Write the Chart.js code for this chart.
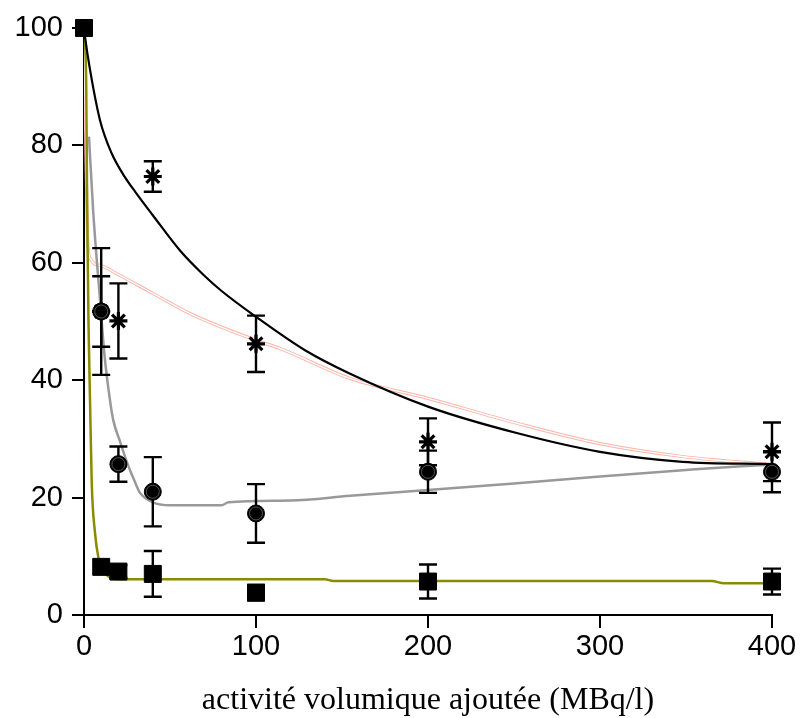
<!DOCTYPE html>
<html>
<head>
<meta charset="utf-8">
<script src="https://cdn.jsdelivr.net/npm/chart.js@4"></script>
<style>
  body { margin: 0; background: #fff; }
  canvas { display: block; }
</style>
</head>
<body>
<canvas id="grafico" width="800" height="718"></canvas>
<script>
// activites mesurees (MBq/l)
const X_POINTS = [0, 10, 20, 40, 100, 200, 400];

// carres
const CARRES = [100, 8.2, 7.4, 7.0, 3.8, 5.7, 5.7];
const CARRES_ERR = [0, 0, 1.1, 3.9, 1.3, 2.9, 2.2];
// ronds
const RONDS = [100, 51.7, 25.7, 21.0, 17.3, 24.4, 24.4];
const RONDS_ERR = [0, 10.8, 3.0, 5.9, 5.0, 3.6, 3.5];
// etoiles
const ETOILES = [100, 51.7, 50.1, 74.7, 46.2, 29.5, 27.8];
const ETOILES_ERR = [0, 6.0, 6.4, 2.6, 4.8, 4.0, 5.0];

// courbes d'ajustement
const NOIR_X = [0, 0.6, 3.5, 9.3, 16, 24, 30, 40, 55.8, 70, 80, 100, 128.5, 154.7, 200, 251.6, 300, 348, 400];
const NOIR_Y = [100, 98.5, 92.9, 84.3, 78.7, 74.5, 72.0, 68.1, 62.1, 57.8, 55.2, 50.8, 45.1, 41.1, 35.5, 31.0, 27.8, 26.1, 25.7];

const GRIS_X = [2.9, 5.4, 9.3, 12, 15.1, 17, 21, 25, 29.7, 32.6, 40, 50, 80, 84, 120, 154.7, 200, 250, 300, 350, 380, 400];
const GRIS_Y = [81.5, 68.5, 53.7, 44, 36.6, 33.2, 29.5, 26.0, 22.6, 20.8, 19.2, 18.7, 18.7, 19.2, 19.5, 20.3, 21.3, 22.4, 23.6, 24.7, 25.3, 25.6];

const OLIVE_X = [0, 1.3, 1.8, 2.6, 3.5, 4.5, 6.4, 8.3, 10, 12.2, 16, 20, 140, 145, 365, 372, 400];
const OLIVE_Y = [100, 90, 70, 50, 36.6, 22.5, 14, 9.9, 8.4, 7.1, 6.3, 6.1, 6.1, 5.8, 5.8, 5.4, 5.4];

const ROUGE_X = [0, 0.8, 2, 3.5, 10, 20, 40, 63.5, 100, 114, 154.7, 200, 250, 300, 348, 400];
const ROUGE_Y = [100, 85, 65, 60.8, 59.5, 58, 54.8, 51.1, 46.8, 45.4, 40.3, 36.9, 32.8, 29.2, 27.0, 25.6];

const X_TICKS = [0, 100, 200, 300, 400];
const Y_TICKS = [0, 20, 40, 60, 80, 100];
const TITRE_X = 'activité volumique ajoutée (MBq/l)';

function paires(xs, ys) {
    return xs.map((x, i) => ({ x: x, y: ys[i] }));
}

function courbe(xs, ys, couleur, largeur, ordre) {
    return {
        data: paires(xs, ys),
        showLine: true,
        borderColor: couleur,
        borderWidth: largeur,
        pointRadius: 0,
        cubicInterpolationMode: 'monotone',
        order: ordre
    };
}

function points(ys, style, rayon, ordre) {
    return {
        data: paires(X_POINTS, ys),
        showLine: false,
        pointStyle: style,
        pointRadius: rayon,
        pointBackgroundColor: '#000',
        pointBorderColor: '#000',
        pointBorderWidth: style === 'star' ? 3.2 : 1,
        clip: false,
        order: ordre
    };
}

const SERIES_ERR = [
    { ys: ETOILES, err: ETOILES_ERR },
    { ys: RONDS, err: RONDS_ERR },
    { ys: CARRES, err: CARRES_ERR }
];

// barres d'erreur, dessinees juste avant les marqueurs
const barresErreur = {
    id: 'barresErreur',
    beforeDatasetDraw(chart, args) {
        if (args.index !== 2) return;
        const ctx = chart.ctx;
        const sx = chart.scales.x;
        const sy = chart.scales.y;
        ctx.save();
        ctx.strokeStyle = '#000';
        ctx.lineWidth = 2.4;
        SERIES_ERR.forEach(s => {
            X_POINTS.forEach((x, i) => {
                if (!s.err[i]) return;
                const px = sx.getPixelForValue(x);
                const haut = sy.getPixelForValue(s.ys[i] + s.err[i]);
                const bas = sy.getPixelForValue(s.ys[i] - s.err[i]);
                ctx.beginPath();
                ctx.moveTo(px, haut); ctx.lineTo(px, bas);
                ctx.moveTo(px - 9, haut); ctx.lineTo(px + 9, haut);
                ctx.moveTo(px - 9, bas); ctx.lineTo(px + 9, bas);
                ctx.stroke();
            });
        });
        ctx.restore();
    },
    afterDatasetDraw(chart, args) {
        // petit anneau gris dans les ronds
        if (args.index !== 1) return;
        const ctx = chart.ctx;
        ctx.save();
        ctx.strokeStyle = '#555';
        ctx.lineWidth = 1;
        args.meta.data.forEach(p => {
            ctx.beginPath();
            ctx.arc(p.x, p.y, 6.5, 0, Math.PI * 2);
            ctx.stroke();
        });
        ctx.restore();
    }
};

const police = { family: '"Liberation Sans", Arial, sans-serif', size: 29 };

const ctx = document.getElementById('grafico').getContext('2d');
const grafico = new Chart(ctx, {
    type: 'scatter',
    data: {
        datasets: [
            points(CARRES, 'rect', 12, 0),
            points(RONDS, 'circle', 8.5, 1),
            points(ETOILES, 'star', 9, 2),
            courbe(NOIR_X, NOIR_Y, '#000', 2.2, 6),
            courbe(OLIVE_X, OLIVE_Y, '#8b8b00', 2.5, 7),
            courbe(GRIS_X, GRIS_Y, '#999', 2.5, 8),
            courbe(ROUGE_X, ROUGE_Y, '#fff', 1.4, 9),
            courbe(ROUGE_X, ROUGE_Y, '#ffb2a6', 3.2, 10)
        ]
    },
    options: {
        responsive: false,
        animation: false,
        layout: { padding: { top: 28, right: 28, left: 0, bottom: 0 } },
        plugins: {
            legend: { display: false },
            tooltip: { enabled: false }
        },
        scales: {
            x: {
                type: 'linear',
                min: 0,
                max: 400,
                afterBuildTicks: s => { s.ticks = X_TICKS.map(v => ({ value: v })); },
                afterFit: s => { s.height = 103; },
                ticks: { font: police, color: '#000', padding: 2, maxRotation: 0 },
                grid: { drawOnChartArea: false, tickLength: 13, color: '#000', lineWidth: 2 },
                border: { color: '#000', width: 2 },
                title: {
                    display: true,
                    text: TITRE_X,
                    color: '#000',
                    font: { family: '"Liberation Serif", "Times New Roman", serif', size: 32 },
                    padding: { top: 0, bottom: -2 }
                }
            },
            y: {
                min: 0,
                max: 100,
                afterBuildTicks: s => { s.ticks = Y_TICKS.map(v => ({ value: v })); },
                afterFit: s => { s.width = 84; },
                ticks: { font: police, color: '#000', padding: 9 },
                grid: { drawOnChartArea: false, tickLength: 12, color: '#000', lineWidth: 2 },
                border: { color: '#000', width: 2 }
            }
        }
    },
    plugins: [barresErreur]
});
</script>
</body>
</html>
